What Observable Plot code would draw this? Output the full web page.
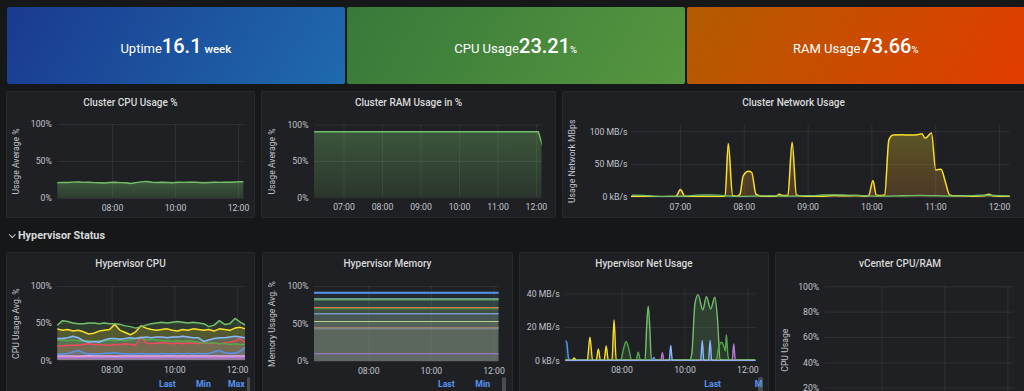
<!DOCTYPE html>
<html><head><meta charset="utf-8">
<script src="https://cdn.jsdelivr.net/npm/d3@7"></script>
<script src="https://cdn.jsdelivr.net/npm/@observablehq/plot@0.6"></script>
<style>
html,body{margin:0;padding:0;background:#161719;}
body{position:relative;width:1024px;height:391px;overflow:hidden;font-family:Roboto,"Noto Sans",sans-serif;}
.stat{position:absolute;top:7px;height:77px;display:flex;align-items:center;justify-content:center;color:#fff;border-radius:2px;}
.stat .lbl{font-size:13px;font-weight:400;}
.stat .val{font-size:20px;font-weight:500;}
.stat .unit{font-size:11.5px;font-weight:500;}
.stat .pc{font-size:9.5px;font-weight:500;}
.panel{position:absolute;background:#1f2023;box-shadow:inset 0 0 0 1px #28292d;border-radius:2px;overflow:hidden;}
.panel svg{position:absolute;left:0;top:0;}
.ptitle{position:absolute;left:0;right:0;top:6px;text-align:center;font-size:10px;font-weight:500;color:#d8d9da;line-height:12px;white-space:nowrap;}
.leg{position:absolute;top:126.5px;font-size:8.7px;font-weight:700;color:#5794f2;line-height:10px;}
.scroll{position:absolute;top:125px;width:3px;height:30px;border-radius:2px;background:#4b4c52;}
.section{position:absolute;left:18px;top:229px;font-size:10.8px;font-weight:700;color:#d8d9da;line-height:13px;}
.chev{position:absolute;left:10px;top:231.5px;width:3.5px;height:3.5px;border-right:1.3px solid #c7d0d9;border-bottom:1.3px solid #c7d0d9;transform:rotate(45deg);}
</style>
</head>
<body>
<div id="s0" class="stat" style="left:7px;width:337.7px;background:linear-gradient(120deg,#1a3a8f,#1f6aae)"></div>
<div id="s1" class="stat" style="left:346.7px;width:338px;background:linear-gradient(120deg,#37793a,#56963f)"></div>
<div id="s2" class="stat" style="left:686.7px;width:338px;background:linear-gradient(120deg,#b25b00,#e23c00)"></div>

<div id="pA" class="panel" style="left:6px;top:91px;width:249px;height:127px"><div class="ptitle">Cluster CPU Usage %</div></div>
<div id="pB" class="panel" style="left:261px;top:91px;width:295px;height:127px"><div class="ptitle">Cluster RAM Usage in %</div></div>
<div id="pC" class="panel" style="left:562px;top:91px;width:463px;height:127px"><div class="ptitle">Cluster Network Usage</div></div>

<div class="chev"></div><div class="section">Hypervisor Status</div>

<div id="pD" class="panel" style="left:6px;top:252px;width:249px;height:160px"><div class="ptitle">Hypervisor CPU</div>
  <div class="leg" style="left:153px">Last</div><div class="leg" style="left:190px">Min</div><div class="leg" style="left:222px">Max</div><div class="scroll" style="left:240.7px"></div></div>
<div id="pE" class="panel" style="left:262px;top:252px;width:251px;height:160px"><div class="ptitle">Hypervisor Memory</div>
  <div class="leg" style="left:176px">Last</div><div class="leg" style="left:213.3px">Min</div><div class="scroll" style="left:240px;width:4px"></div></div>
<div id="pF" class="panel" style="left:519px;top:252px;width:250px;height:160px"><div class="ptitle">Hypervisor Net Usage</div>
  <div class="scroll" style="left:238.5px;width:5px"></div><div class="leg" style="left:185.3px">Last</div><div class="leg" style="left:235.7px">M</div></div>
<div id="pG" class="panel" style="left:775px;top:252px;width:250px;height:200px"><div class="ptitle">vCenter CPU/RAM</div></div>

<script>
// ---------- stat panels ----------
const statLabels = ["Uptime", "CPU Usage", "RAM Usage"];
const statValues = ["16.1", "23.21", "73.66"];
const statUnits = [" week", "%", "%"];

// ---------- shared time axis (10-minute samples) ----------
const times10 = ["06:15","06:25","06:35","06:45","06:55","07:05","07:15","07:25","07:35","07:45","07:55","08:05","08:15","08:25","08:35","08:45","08:55","09:05","09:15","09:25","09:35","09:45","09:55","10:05","10:15","10:25","10:35","10:45","10:55","11:05","11:15","11:25","11:35","11:45","11:55","12:05","12:15"];

// Cluster CPU usage %
const cpuCluster = [21.5,21.7,21.6,22.1,22.3,21.8,21.9,21.4,21.2,21.0,21.6,21.9,21.4,21.2,20.2,21.5,22.4,23.2,21.9,21.7,22.0,21.6,21.3,21.9,21.8,21.9,22.1,21.6,21.2,21.6,21.9,21.8,22.0,21.9,22.3,22.7,22.5];

// Cluster RAM usage %
const ramTimes = ["06:14","12:03","12:09"];
const ramValues = [91, 91, 73];

// Cluster network usage (MB/s)
const netTimes = ["06:14","06:20","06:30","06:40","06:50","06:56","07:00","07:04","07:10","07:20","07:30","07:38","07:42","07:45","07:49","07:53","07:56","07:59","08:04","08:07","08:11","08:16","08:25","08:30","08:33","08:36","08:41","08:45","08:49","08:55","09:05","09:15","09:25","09:35","09:45","09:53","09:57","10:01","10:04","10:08","10:12","10:16","10:20","10:28","10:36","10:44","10:47","10:50","10:56","11:00","11:05","11:09","11:13","11:18","11:25","11:35","11:45","11:50","11:54","12:00","12:05","12:10"];
const netYellow = [2,1.5,1.5,1,1.5,2,12,2,1,1.5,1,1,3,82,3,2,5,33,40,38,5,2,1.5,2,5,3,3,84,4,2,2,2,3,2.5,3,2,3,26,4,3,4,88,95,95.5,95,96,97,90,98,42,43,24,4,2.5,2.5,2,2.5,5,2.5,2,2,1.5];
const netGreen = [3.5,3.2,2.2,1.5,1.8,2.0,3.5,3.8,3.6,2.5,1.5,2.0,2.5,2.8,2.2,2.0,2.6,3.0,3.8,4.0,3.7,3.2,2.6,2.0,2.2,2.6,3.0,3.2,3.0,2.5,2.2,2.6,3.0,3.4,3.2,2.6,2.4];

// Hypervisor CPU usage % (per host)
const hcGreen  = [48,54,53,51,50,50,51,51,50,51,50,50,49,47,46,44,46,48,50,51,52,51,52,53,52,51,52,51,50,46,48,54,49,50,57,52,48];
const hcYellow = [43,41,42,40,41,39,36,37,40,41,42,49,41,38,35,39,47,44,42,41,42,43,41,40,42,41,43,42,41,42,40,43,42,41,44,45,43];
const hcLBlue  = [30,30,31,33,31,27,25,26,25,28,30,30,29,30,31,30,31,32,31,32,32,31,32,32,33,32,31,31,26,28,30,31,31,32,33,32,31];
const hcDGreen = [28,28,27,28,27,27,27,26,27,27,28,27,28,27,28,30,32,28,29,28,27,27,26,27,26,27,26,25,24,24,24,23,23,22,23,22,22];
const hcRed    = [20,20,21,21,21,22,23,22,22,21,21,22,22,23,22,21,33,24,23,24,24,24,23,24,23,24,24,23,24,23,24,23,24,25,27,30,24];
const hcBlue   = [9,9,10,12,14,11,9,9,9,10,10,11,10,9,9,9,10,9,9,9,10,9,9,10,9,10,9,10,9,10,12,14,11,10,10,13,18];
const hcPink   = [6.5,6.3,6.6,6.4,6.2,6.5,6.8,6.4,6.3,6.5,6.6,6.2,6.4,6.5,6.3,6.6,6.4,6.5,6.3,6.4,6.6,6.5,6.3,6.4,6.5,6.6,6.4,6.3,6.5,6.4,6.6,6.5,6.4,6.3,6.5,6.6,6.4];
const hcPurple = [4.2,4.3,4.1,4.4,4.2,4.3,4.5,4.2,4.1,4.3,4.4,4.2,4.3,4.1,4.2,4.4,4.3,4.2,4.3,4.1,4.2,4.4,4.3,4.2,4.1,4.3,4.2,4.4,4.3,4.2,4.1,4.3,4.2,4.4,4.3,4.2,4.3];

// Hypervisor memory usage % (flat per host)
const memTimes = ["06:16","12:10"];
const memValues = [91.6, 83.5, 82.2, 72.0, 70.3, 63.6, 53.3, 45.3, 43.6, 10.3];
const memColors = ["#5794f2","#8fd6c0","#73bf69","#e0784a","#56a64b","#8ab8ff","#b8cf8a","#a0806a","#8f939c","#a77bd0"];

// Hypervisor net usage (MB/s)
const hnBlueT   = ["06:13","06:15","06:18","06:21","08:57","09:01","09:04","12:15"];
const hnBlueV   = [12,11,2,0.5,0.5,2.2,0.5,0.5];
const hnYellowT = ["06:13","06:25","06:29","06:33","06:54","06:59","07:04","07:11","07:15","07:19","07:26","07:30","07:34","07:41","07:45","07:49","12:15"];
const hnYellowV = [0.5,0.5,2,0.5,0.5,14.3,0.5,0.5,7.3,0.5,0.5,9,0.5,0.5,24.5,0.5,0.5];
const hnGreenT  = ["06:13","07:58","08:02","08:08","08:14","08:18","08:27","08:31","08:35","11:00","11:04","11:10","11:15","11:17","11:19","11:22","11:25","12:15"];
const hnGreenV  = [0.8,0.8,6,11.7,6,0.8,0.8,5.3,0.8,0.8,8,11.3,8,6,15.8,3,0.8,0.8];
const hnLGreenT = ["06:13","08:44","08:47","08:50","08:53","08:56","10:09","10:13","10:19","10:25","10:34","10:41","10:49","10:57","11:02","11:07","11:10","12:15"];
const hnLGreenV = [0.8,0.8,20,32.7,20,0.8,0.8,4,34,39.6,30.5,38.4,31,38,25,1,0.8,0.8];
const hnPurpleT = ["06:13","09:14","09:17","09:20","11:30","11:33","11:36","12:15"];
const hnPurpleV = [0.3,0.3,5,0.3,0.3,10.3,0.3,0.3];
const hnLBlueT  = ["06:13","09:30","09:33","09:36","10:30","10:33","10:36","10:45","10:48","10:51","12:15"];
const hnLBlueV  = [0.3,0.3,9.3,0.3,0.3,12.3,0.3,0.3,12.3,0.3,0.3];

// ---------- stat rendering ----------
statLabels.forEach((l, i) => {
  const unitCls = statUnits[i] === "%" ? "pc" : "unit";
  document.getElementById("s" + i).innerHTML =
    `<div><span class="lbl">${l}</span><span class="val">${statValues[i]}</span><span class="${unitCls}">${statUnits[i]}</span></div>`;
});

// ---------- chart helpers ----------
const T = d3.utcParse("%H:%M");
const fmtT = d3.utcFormat("%H:%M");
const pct = d => d + "%";
const mbs = d => d === 0 ? "0 kB/s" : d + " MB/s";
const TXT = "#c0c4cc";
const rows = (ts, vs) => ts.map((s, i) => ({t: T(s), v: vs[i]}));

function build(id, o) {
  const marks = [
    Plot.dot([], {x: "t", y: "v"}),
    ...o.marks
  ];
  if (o.ylabel) marks.push(Plot.text([o.ylabel], {text: d => d, frameAnchor: "left", textAnchor: "middle", dx: o.ldx, rotate: -90, fill: TXT, fontSize: 8.7, lineAnchor: "middle"}));
  const svg = Plot.plot({
    width: o.w, height: o.h,
    marginLeft: o.ml, marginRight: o.mr, marginTop: o.mt, marginBottom: o.mb,
    style: {background: "transparent", color: TXT, fontSize: "8.7px", fontFamily: "Roboto, sans-serif", overflow: "visible"},
    x: {type: "utc", domain: o.xd.map(T), ticks: o.xt.map(T), tickFormat: o.xf ?? fmtT, grid: true, tickSize: 0, tickPadding: 6, label: null},
    y: {domain: o.yd, ticks: o.yt, tickFormat: o.yf, grid: true, tickSize: 0, tickPadding: o.yp ?? 6, label: null},
    marks
  });
  if (o.grads) {
    const defs = d3.select(svg).insert("defs", ":first-child");
    for (const g of o.grads) {
      const lg = defs.append("linearGradient").attr("id", g.id).attr("x1", 0).attr("y1", 0).attr("x2", 0).attr("y2", 1);
      g.stops.forEach(s => lg.append("stop").attr("offset", s[0]).attr("stop-color", s[1]).attr("stop-opacity", s[2]));
    }
  }
  document.getElementById(id).appendChild(svg);
}

const areaL = (data, color, op, curve = "linear") =>
  Plot.areaY(data, {x: "t", y1: 0, y2: "v", fill: color, fillOpacity: op, curve, clip: true});
const lineL = (data, color, w = 1.3, curve = "linear") =>
  Plot.lineY(data, {x: "t", y: "v", stroke: color, strokeWidth: w, curve, clip: true});

// A: Cluster CPU
const cpuData = rows(times10, cpuCluster);
build("pA", {
  w: 249, h: 127, ml: 51.3, mr: 11.7, mt: 33, mb: 20,
  xd: ["06:16", "12:10"], xt: ["08:00", "10:00", "12:00"],
  yd: [0, 100], yt: [0, 50, 100], yf: pct,
  ylabel: "Usage Average %", ldx: -41.5,
  grads: [{id: "gCpu", stops: [["0%", "#73bf69", 0.36], ["100%", "#73bf69", 0.18]]}],
  marks: [
    Plot.areaY(cpuData, {x: "t", y1: 0, y2: "v", fill: "url(#gCpu)", clip: true}),
    lineL(cpuData, "#73bf69", 1.4)
  ]
});

// B: Cluster RAM
const ramData = rows(ramTimes, ramValues);
build("pB", {
  w: 295, h: 127, ml: 53, mr: 14.3, mt: 33.7, mb: 20.7,
  xd: ["06:14", "12:09"], xt: ["07:00", "08:00", "09:00", "10:00", "11:00", "12:00"],
  yd: [0, 100], yt: [0, 50, 100], yf: pct,
  ylabel: "Usage Average %", ldx: -42.3,
  grads: [{id: "gRam", stops: [["0%", "#73bf69", 0.34], ["100%", "#73bf69", 0.14]]}],
  marks: [
    Plot.areaY(ramData, {x: "t", y1: 0, y2: "v", fill: "url(#gRam)", clip: true}),
    lineL(ramData, "#73bf69", 1.4)
  ]
});

// C: Cluster Network
const netY = rows(netTimes, netYellow);
const netG = rows(times10, netGreen);
build("pC", {
  w: 463, h: 127, ml: 69, mr: 15.3, mt: 33.7, mb: 21,
  xd: ["06:14", "12:10"], xt: ["07:00", "08:00", "09:00", "10:00", "11:00", "12:00"],
  yd: [0, 110], yt: [0, 50, 100], yf: mbs, yp: 4,
  ylabel: "Usage Network MBps", ldx: -59,
  grads: [{id: "gNet", stops: [["0%", "#e8d82a", 0.3], ["100%", "#ff9830", 0.2]]}],
  marks: [
    Plot.areaY(netY, {x: "t", y1: 0, y2: "v", fill: "url(#gNet)", curve: "monotone-x", clip: true}),
    areaL(netG, "#73bf69", 0.15, "monotone-x"),
    lineL(netY, "#fade2a", 1.5, "monotone-x"),
    lineL(netG, "#73bf69", 1.3, "monotone-x")
  ]
});

// D: Hypervisor CPU
const hcSeries = [
  [hcGreen, "#73bf69"], [hcYellow, "#fade2a"], [hcLBlue, "#8ab8ff"], [hcDGreen, "#56a64b"],
  [hcRed, "#f2495c"], [hcBlue, "#5794f2"], [hcPink, "#e5a8e2"], [hcPurple, "#b877d9"]
].map(([vals, c]) => [rows(times10, vals), c]);
build("pD", {
  w: 249, h: 128.3, ml: 51.3, mr: 10, mt: 34, mb: 20,
  xd: ["06:16", "12:15"], xt: ["08:00", "10:00", "12:00"],
  yd: [0, 100], yt: [0, 50, 100], yf: pct,
  ylabel: "CPU Usage Avg. %", ldx: -41.5,
  marks: [
    ...hcSeries.map(([d, c]) => areaL(d, c, 0.18)),
    ...hcSeries.slice().reverse().map(([d, c]) => lineL(d, c, 1.5))
  ]
});

// E: Hypervisor Memory
const memSeries = memValues.map((v, i) => [rows(memTimes, memTimes.map(() => v)), memColors[i]]);
build("pE", {
  w: 251, h: 129, ml: 52, mr: 14.3, mt: 34, mb: 20,
  xd: ["06:16", "12:10"], xt: ["08:00", "10:00", "12:00"],
  yd: [0, 100], yt: [0, 50, 100], yf: pct,
  ylabel: "Memory Usage Avg. %", ldx: -42,
  marks: [
    ...memSeries.map(([d, c]) => areaL(d, c, 0.085)),
    ...memSeries.map(([d, c], i) => lineL(d, c, i === 0 ? 2 : 1))
  ]
});

// F: Hypervisor Net Usage
const hnSeries = [
  [hnLGreenT, hnLGreenV, "#73bf69"], [hnGreenT, hnGreenV, "#56a64b"], [hnYellowT, hnYellowV, "#fade2a"],
  [hnBlueT, hnBlueV, "#5794f2"], [hnPurpleT, hnPurpleV, "#b877d9"], [hnLBlueT, hnLBlueV, "#8ab8ff"]
].map(([ts, vs, c]) => [rows(ts, vs), c]);
build("pF", {
  w: 250, h: 128.7, ml: 46.3, mr: 13.7, mt: 34.7, mb: 20,
  xd: ["06:13", "12:15"], xt: ["08:00", "10:00", "12:00"],
  yd: [0, 44], yt: [0, 20, 40], yf: mbs,
  marks: [
    ...hnSeries.map(([d, c]) => areaL(d, c, 0.2, "monotone-x")),
    ...hnSeries.map(([d, c]) => lineL(d, c, 1.4, "monotone-x"))
  ]
});

// G: vCenter CPU/RAM (no data; its time labels lie below the visible area)
build("pG", {
  w: 250, h: 181, ml: 49.7, mr: 11.3, mt: 34.3, mb: 20,
  xd: ["06:12", "12:12"], xt: ["08:00", "10:00", "12:00"], xf: () => "",
  yd: [0, 100], yt: [0, 20, 40, 60, 80, 100], yf: pct,
  ylabel: "CPU Usage", ldx: -39.7,
  marks: []
});
</script>
</body></html>
